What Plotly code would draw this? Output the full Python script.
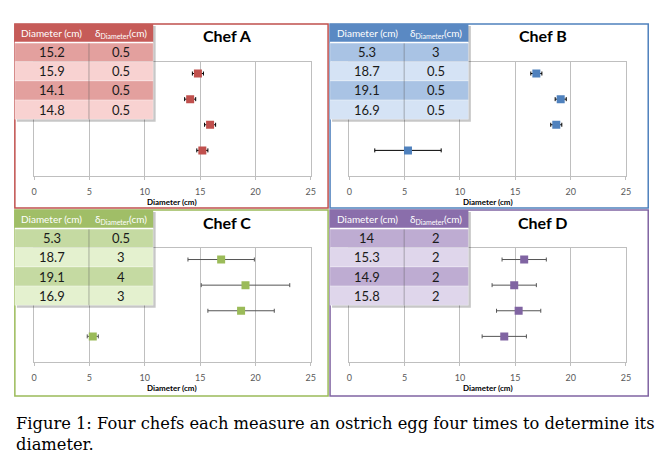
import plotly.graph_objects as go

W, H = 672, 465

chefs = ["Chef A", "Chef B", "Chef C", "Chef D"]
diam_A = [15.2, 15.9, 14.1, 14.8]
err_A = [0.5, 0.5, 0.5, 0.5]
diam_B = [5.3, 18.7, 19.1, 16.9]
err_B = [3, 0.5, 0.5, 0.5]
diam_C = [5.3, 18.7, 19.1, 16.9]
err_C = [0.5, 3, 4, 3]
diam_D = [14, 15.3, 14.9, 15.8]
err_D = [2, 2, 2, 2]
measurement = [1, 2, 3, 4]
x_ticks = [0, 5, 10, 15, 20, 25]
col_headers = ["Diameter (cm)", "δ<sub>Diameter</sub>(cm)"]
x_title = "Diameter (cm)"
caption = ("Figure 1: Four chefs each measure an ostrich egg four times to determine its<br>"
           "diameter.")

diams = [diam_A, diam_B, diam_C, diam_D]
errs = [err_A, err_B, err_C, err_D]

# styles per panel
marker_col = ["#C0504D", "#4F81BD", "#9BBB59", "#8064A2"]
border_col = ["#C0504D", "#4F81BD", "#9BBB59", "#8064A2"]
head_col = ["#C65B58", "#5A89C3", "#A0BE67", "#8A6EAB"]
row_dark = ["#E3A09E", "#A9C3E4", "#C5DAA2", "#BEACD2"]
row_light = ["#F8D2D1", "#D5E3F5", "#E4F1CF", "#DFD6EB"]
err_col = ["#000000", "#000000", "#555555", "#555555"]

# panel boxes in pixels (left, top, right, bottom)
boxes = [(12, 24, 329, 208), (331, 24, 653, 208), (12, 210, 329, 396), (331, 210, 653, 396)]

def px(x):
    return x / W

def py(y):
    return 1 - y / H

fig = go.Figure()
shapes = []
annotations = []

for i in range(4):
    L, T, R, B = boxes[i]
    xa = "x" if i == 0 else f"x{i+1}"
    ya = "y" if i == 0 else f"y{i+1}"
    xkey = "xaxis" if i == 0 else f"xaxis{i+1}"
    ykey = "yaxis" if i == 0 else f"yaxis{i+1}"
    x0, x1 = L + 19.5, L + 299.5
    y0, y1 = T + 38, T + 152
    fig.add_trace(go.Scatter(
        x=diams[i], y=measurement, xaxis=xa, yaxis=ya, mode="markers",
        marker=dict(symbol="square", size=8, color=marker_col[i]),
        error_x=dict(type="data", array=errs[i], visible=True, color=err_col[i],
                     thickness=1, width=2),
        showlegend=False, hoverinfo="skip"))
    fig.layout[xkey] = dict(
        domain=[px(x0), px(x1)], anchor=ya, range=[0, 25], tickvals=x_ticks,
        showgrid=True, gridcolor="#BFBFBF", gridwidth=1, zeroline=False,
        showline=True, linecolor="#BFBFBF", mirror=True, linewidth=1,
        ticks="outside", ticklen=3, tickcolor="#BFBFBF",
        tickfont=dict(family="Lato", size=9, color="#595959"),
        ticklabelstandoff=4, fixedrange=True)
    fig.layout[ykey] = dict(
        domain=[py(y1), py(y0)], anchor=xa, range=[0, 4.45], showticklabels=False,
        showgrid=False, zeroline=False, showline=True, linecolor="#BFBFBF",
        mirror=True, ticks="", fixedrange=True)
    # panel border
    shapes.append(dict(type="rect", xref="paper", yref="paper",
                       x0=px(L), x1=px(R), y0=py(B), y1=py(T),
                       line=dict(color=border_col[i], width=1.5), layer="above"))
    # title
    annotations.append(dict(text="<b>" + chefs[i] + "</b>", xref="paper", yref="paper",
                            x=px(L + 215), y=py(T + 12), xanchor="center", yanchor="middle",
                            showarrow=False, font=dict(family="Lato", size=16, color="#000000")))
    # x axis title
    annotations.append(dict(text="<b>" + x_title + "</b>", xref="paper", yref="paper",
                            x=px((x0 + x1) / 2), y=py(y1 + 26), xanchor="center", yanchor="middle",
                            showarrow=False, font=dict(family="Lato", size=8, color="#000000")))
    # table
    tL, tR, tS = L, L + 140, L + 75
    hT, hB = T, T + 18.5
    rowh = 19.2
    shapes.append(dict(type="rect", xref="paper", yref="paper",
                       x0=px(tL + 2), x1=px(tR + 2.5), y0=py(hB + 4 * rowh + 2.5), y1=py(hT + 2),
                       line=dict(width=0), fillcolor="rgba(0,0,0,0.22)", layer="above"))
    shapes.append(dict(type="rect", xref="paper", yref="paper",
                       x0=px(tL), x1=px(tR), y0=py(hB), y1=py(hT),
                       line=dict(width=0), fillcolor=head_col[i], layer="above"))
    for c, htxt in enumerate(col_headers):
        cx = (tL + tS) / 2 if c == 0 else (tS + tR) / 2
        annotations.append(dict(text=htxt, xref="paper", yref="paper", x=px(cx), y=py((hT + hB) / 2),
                                xanchor="center", yanchor="middle", showarrow=False,
                                font=dict(family="Lato", size=10, color="#FFFFFF")))
    for r in range(4):
        rT = hB + r * rowh
        rB = rT + rowh
        fill = row_dark[i] if r % 2 == 0 else row_light[i]
        shapes.append(dict(type="rect", xref="paper", yref="paper",
                           x0=px(tL), x1=px(tR), y0=py(rB), y1=py(rT),
                           line=dict(color="rgba(255,255,255,0.6)", width=0.5),
                           fillcolor=fill, layer="above"))
        annotations.append(dict(text=f"{diams[i][r]:g}", xref="paper", yref="paper",
                                x=px((tL + tS) / 2), y=py((rT + rB) / 2), xanchor="center",
                                yanchor="middle", showarrow=False,
                                font=dict(family="Lato", size=13, color="#1A1A1A")))
        annotations.append(dict(text=f"{errs[i][r]:g}", xref="paper", yref="paper",
                                x=px((tS + tR) / 2), y=py((rT + rB) / 2), xanchor="center",
                                yanchor="middle", showarrow=False,
                                font=dict(family="Lato", size=13, color="#1A1A1A")))
    shapes.append(dict(type="line", xref="paper", yref="paper",
                       x0=px(tS), x1=px(tS), y0=py(hB + 4 * rowh), y1=py(hB),
                       line=dict(color="rgba(90,90,90,0.45)", width=1), layer="above"))
    shapes.append(dict(type="line", xref="paper", yref="paper",
                       x0=px(tL), x1=px(tR), y0=py(hB), y1=py(hB),
                       line=dict(color="#FFFFFF", width=1.5), layer="above"))

annotations.append(dict(text=caption, xref="paper", yref="paper", x=px(11), y=py(412),
                        xanchor="left", yanchor="top", align="left", showarrow=False,
                        font=dict(family="DejaVu Serif", size=16.3, color="#000000")))

fig.update_layout(width=W, height=H, margin=dict(l=0, r=0, t=0, b=0),
                  paper_bgcolor="#FFFFFF", plot_bgcolor="#FFFFFF",
                  shapes=shapes, annotations=annotations)

fig.write_html("out.html", config={"displayModeBar": False},
               post_script="document.body.style.margin='0';document.body.style.padding='0';")
